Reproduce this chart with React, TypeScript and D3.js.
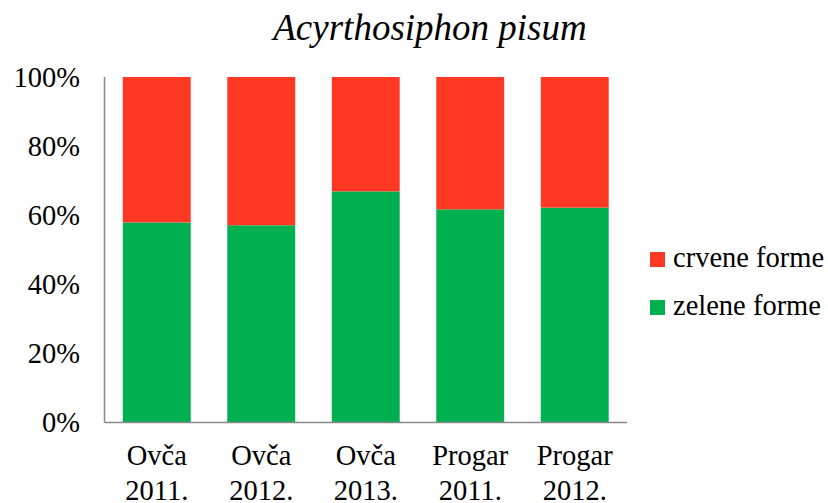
import React from "react";
import * as d3 from "d3";

const categories: string[][] = [
  ["Ovča", "2011."],
  ["Ovča", "2012."],
  ["Ovča", "2013."],
  ["Progar", "2011."],
  ["Progar", "2012."],
];
const zelene: number[] = [0.579, 0.571, 0.669, 0.617, 0.622];
const crvene: number[] = zelene.map((v) => 1 - v);
const yTicks: number[] = [0, 0.2, 0.4, 0.6, 0.8, 1];
const seriesNames = { red: "crvene forme", green: "zelene forme" };
const RED = "#FF3823";
const GREEN = "#00AF50";

export default function App() {
  const W = 828, H = 503;
  const left = 104.5, right = 627, top = 77, bottom = 422.5;
  const x = d3.scaleBand<number>().domain(d3.range(categories.length)).range([left, right]).paddingInner(0.35).paddingOuter(0.175);
  const y = d3.scaleLinear().domain([0, 1]).range([bottom, top]);
  const font = '"Liberation Serif", "DejaVu Serif", "Times New Roman", Times, serif';
  const fs = 28.5;
  return (
    <svg width={W} height={H} style={{ position: "absolute", left: 0, top: 0, fontFamily: font }}>
      <rect width={W} height={H} fill="#fff" />
      <text x={430} y={40} textAnchor="middle" fontSize={37} fontStyle="italic" style={{ fontFamily: font }}>Acyrthosiphon pisum</text>
      {categories.map((c, i) => (
        <g key={i}>
          <rect x={x(i)} width={x.bandwidth()} y={y(zelene[i])} height={y(0) - y(zelene[i])} fill={GREEN} />
          <rect x={x(i)} width={x.bandwidth()} y={y(zelene[i] + crvene[i])} height={y(zelene[i]) - y(zelene[i] + crvene[i])} fill={RED} />
          <text x={(x(i) as number) + x.bandwidth() / 2} textAnchor="middle" fontSize={fs} style={{ fontFamily: font }}>
            <tspan x={(x(i) as number) + x.bandwidth() / 2} y={465}>{c[0]}</tspan>
            <tspan x={(x(i) as number) + x.bandwidth() / 2} y={499.5}>{c[1]}</tspan>
          </text>
        </g>
      ))}
      <line x1={left} x2={left} y1={top} y2={bottom} stroke="#898989" strokeWidth={1.5} />
      <line x1={left} x2={right} y1={bottom} y2={bottom} stroke="#898989" strokeWidth={1.5} />
      {yTicks.map((t) => (
        <text key={t} x={80} y={y(t) + 9.5} textAnchor="end" fontSize={fs} style={{ fontFamily: font }}>{d3.format(".0%")(t)}</text>
      ))}
      <rect x={650} y={252} width={15} height={15} fill={RED} />
      <text x={673} y={267} fontSize={fs} style={{ fontFamily: font }}>{seriesNames.red}</text>
      <rect x={650} y={300} width={15} height={15} fill={GREEN} />
      <text x={673} y={315} fontSize={fs} style={{ fontFamily: font }}>{seriesNames.green}</text>
    </svg>
  );
}
